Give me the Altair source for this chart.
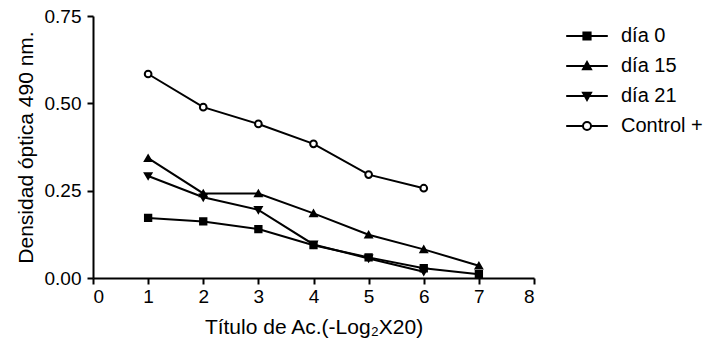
import altair as alt
import pandas as pd

series_names = ["día 0", "día 15", "día 21", "Control +"]
x_titles = [1, 2, 3, 4, 5, 6, 7]
dia0 = [0.172, 0.162, 0.140, 0.094, 0.059, 0.028, 0.011]
dia15 = [0.343, 0.242, 0.242, 0.185, 0.124, 0.082, 0.035]
dia21 = [0.292, 0.231, 0.195, 0.096, 0.056, 0.018]
control = [0.584, 0.489, 0.441, 0.384, 0.296, 0.257]

rows = []
for name, vals in zip(series_names, [dia0, dia15, dia21, control]):
    for x, v in zip(x_titles, vals):
        rows.append({"x": x, "y": v, "serie": name})
df = pd.DataFrame(rows)

FONT = "Liberation Sans"

legend_paths = [
    "M-5.2,0H5.2M-0.9,-0.9H0.9V0.9H-0.9Z",
    "M-5.2,0H5.2M0,-1L1,0.8H-1Z",
    "M-5.2,0H5.2M0,1L1,-0.8H-1Z",
    "M-5.2,0H-1M1,0H5.2M-1,0A1,1 0 1,0 1,0A1,1 0 1,0 -1,0Z",
]
fills = ["black", "black", "black", "white"]
strokes = ["black", "black", "black", "black"]

xs = alt.X("x:Q", scale=alt.Scale(domain=[0, 8], nice=False, zero=False),
           axis=alt.Axis(title="Título de Ac.(-Log₂X20)", values=list(range(0, 9)),
                         format="d", grid=False))
ys = alt.Y("y:Q", scale=alt.Scale(domain=[0, 0.75], nice=False),
           axis=alt.Axis(title="Densidad óptica 490 nm.", values=[0, 0.25, 0.5, 0.75],
                         format=".2f", grid=False))

lines = alt.Chart(df).mark_line(color="black", strokeWidth=2).encode(
    x=xs, y=ys, detail="serie:N"
)

points = alt.Chart(df).mark_point(filled=False, stroke="black", strokeWidth=2, opacity=1).encode(
    x=xs, y=ys,
    shape=alt.Shape("serie:N", scale=alt.Scale(domain=series_names,
                    range=["square", "triangle-up", "triangle-down", "circle"]), legend=None),
    fill=alt.Fill("serie:N", scale=alt.Scale(domain=series_names, range=fills), legend=None),
    size=alt.Size("serie:N", scale=alt.Scale(domain=series_names, range=[40, 45, 45, 65]), legend=None),
)

leg = dict(title=None, orient="none", legendX=464, legendY=10,
           labelFont=FONT, labelFontSize=20, labelColor="black",
           symbolSize=64, rowPadding=10, labelOffset=24, symbolOffset=20,
           symbolStrokeWidth=2)

legend_layer = alt.Chart(df).transform_filter("datum.x < 0").mark_point(
    filled=False, strokeWidth=2, opacity=1, size=64
).encode(
    x=xs, y=ys,
    shape=alt.Shape("serie:N", scale=alt.Scale(domain=series_names, range=legend_paths),
                    legend=alt.Legend(**leg)),
    fill=alt.Fill("serie:N", scale=alt.Scale(domain=series_names, range=fills),
                  legend=alt.Legend(**leg)),
    stroke=alt.Stroke("serie:N", scale=alt.Scale(domain=series_names, range=strokes),
                      legend=alt.Legend(**leg)),
)

chart = alt.layer(lines, points, legend_layer).resolve_scale(
    shape="independent", fill="independent", stroke="independent"
).properties(
    width=441, height=262,
    padding={"left": 93, "top": 16, "right": 170, "bottom": 68},
    autosize="none", background="white",
).configure_view(stroke=None).configure_axis(
    domainColor="black", domainWidth=2, tickColor="black", tickWidth=2, tickSize=6,
    labelFont=FONT, labelFontSize=19, labelColor="black",
    titleFont=FONT, titleFontSize=21, titleColor="black", titleFontWeight="normal",
).configure_axisY(titlePadding=8, labelPadding=6).configure_axisX(titlePadding=10, labelPadding=3)

chart.save("out.html", embed_options={"renderer": "svg", "actions": False})
